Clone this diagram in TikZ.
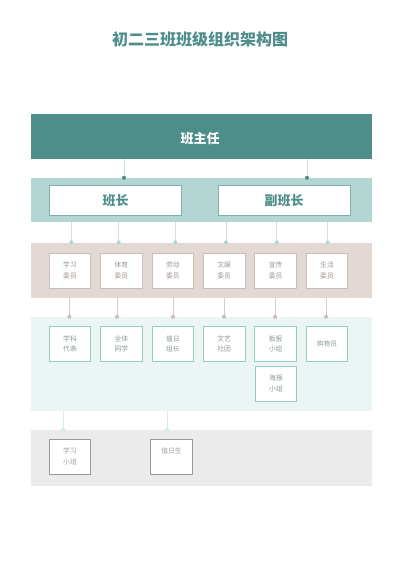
\documentclass[tikz,border=0pt]{standalone}
\usepackage{fontspec}
\setmainfont{Noto Sans CJK SC}
\definecolor{deepteal}{HTML}{4E8E8A}
\definecolor{paleteal}{HTML}{B4D6D3}
\definecolor{leadline}{HTML}{7FB0AC}
\definecolor{rosegray}{HTML}{E2D8D4}
\definecolor{roseline}{HTML}{CDBCB6}
\definecolor{rosetext}{HTML}{A0958F}
\definecolor{mintfill}{HTML}{EBF6F4}
\definecolor{mintline}{HTML}{94CFC1}
\definecolor{minttext}{HTML}{8C9A95}
\definecolor{ashfill}{HTML}{EBEBEB}
\definecolor{ashline}{HTML}{9A9A9A}
\definecolor{ashtext}{HTML}{A0A0A0}
\begin{document}
\begin{tikzpicture}[x=1pt, y=-1pt,
  band/.style={minimum width=341pt, inner sep=0pt},
  leadbox/.style={draw=leadline, fill=white, line width=0.8pt, minimum width=132pt, minimum height=30.5pt,
    text=deepteal, font=\bfseries\fontsize{13}{15}\selectfont},
  unitbox/.style={draw=#1, fill=white, line width=0.8pt, minimum width=41.5pt, minimum height=35pt,
    inner sep=0pt, align=center, font=\fontsize{6.8}{10.5}\selectfont},
  joint/.style={circle, fill=#1, inner sep=0pt, minimum size=4pt},
  link/.style={draw=#1, line width=0.8pt}]
  \useasboundingbox (0,0) rectangle (400,565);
  \node[text=deepteal, font=\bfseries\fontsize{16}{20}\selectfont] (title) at (200,39) {初二三班班级组织架构图};

  % bands
  \node[band, fill=deepteal, minimum height=45pt] (head) at (201.5,136.5) {};
  \node[text=white, font=\bfseries\fontsize{13}{15}\selectfont] (headtxt) at (200,139) {班主任};
  \node[band, fill=paleteal, minimum height=44pt] (lead) at (201.5,200) {};
  \node[band, fill=rosegray, minimum height=55pt] (comm) at (201.5,270) {};
  \node[band, fill=mintfill, minimum height=93.5pt] (group) at (201.5,363.75) {};
  \node[band, fill=ashfill, minimum height=56pt] (team) at (201.5,458) {};

  % monitor row
  \node[leadbox] (monitor) at (115.5,200.5) {班长};
  \node[leadbox] (vice) at (284,200.5) {副班长};

  % committee row
  \foreach \txt [count=\i from 0] in {{学习\\委员},{体育\\委员},{劳动\\委员},{文娱\\委员},{宣传\\委员},{生活\\委员}} {
    \node[unitbox=roseline, text=rosetext] (c\i) at ({70+51.4*\i},270.5) {\txt};
  }
  % group row
  \foreach \txt [count=\i from 0] in {{学科\\代表},{全体\\同学},{值日\\组长},{文艺\\社团},{板报\\小组},{购物员}} {
    \node[unitbox=mintline, text=minttext] (g\i) at ({70+51.4*\i},344) {\txt};
  }
  \node[unitbox=mintline, text=minttext] (poster) at (276,383.5) {海报\\小组};
  % team row
  \node[unitbox=ashline, text=ashtext] (study) at (70,456.5) {学习\\小组};
  \node[unitbox=ashline, text=ashtext] (duty) at (171.5,456.5) {值日生\\\phantom{生}};

  % connectors
  \foreach \x in {124,307}
    \draw[link=paleteal!80!white] (head.south -| \x,0) -- (lead.north -| \x,0) node[joint=deepteal] {};
  \foreach \x in {71.3,118.7,175.3,226,276.7,327.7}
    \draw[link=paleteal!70!white] (lead.south -| \x,0) -- (comm.north -| \x,0) node[joint=paleteal] {};
  \foreach \x in {69.3,117,173,224,275,326}
    \draw[link=roseline!80!white] (comm.south -| \x,0) -- (group.north -| \x,0) node[joint=roseline] {};
  \foreach \x in {63.3,167.3}
    \draw[link=mintline!40!white] (group.south -| \x,0) -- (team.north -| \x,0) node[joint=mintline!40!white] {};
\end{tikzpicture}
\end{document}
